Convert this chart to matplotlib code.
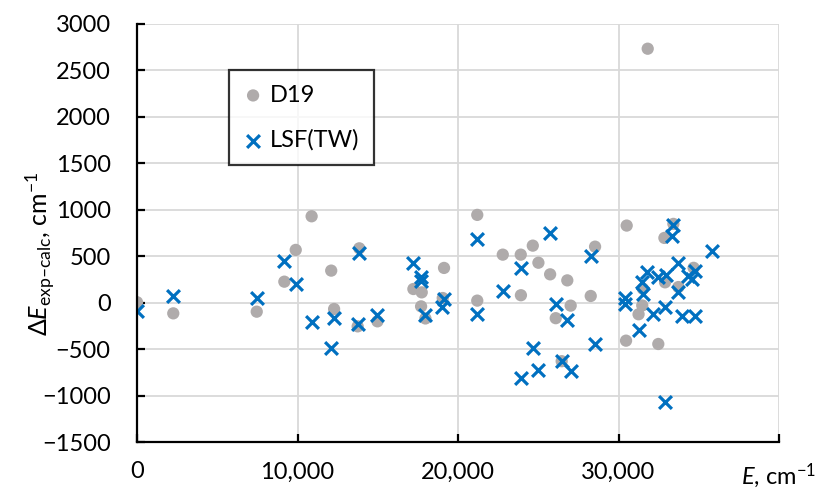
import matplotlib
matplotlib.use('Agg')
import matplotlib.pyplot as plt

plt.rcParams['font.family'] = ['Lato', 'DejaVu Sans']
plt.rcParams['mathtext.fontset'] = 'custom'
plt.rcParams['mathtext.rm'] = 'Lato'
plt.rcParams['mathtext.it'] = 'Lato:italic'

# D19 (grey circles)
d19_e = [0, 2260, 7460, 9180, 9890, 10880, 12100, 12280, 13850, 13750,
         14980, 17220, 17740, 17700, 17970, 19130, 19050, 21200, 21200, 22790,
         23910, 23920, 24660, 25010, 25740, 26810, 26090, 26460, 27020, 28540,
         28270, 30510, 31820, 33420, 32860, 34680, 32900, 31520, 33730, 31480,
         31250, 30470, 32480]
d19_de = [5, -115, -97, 226, 568, 930, 345, -68, 585, -255,
          -201, 147, 111, -40, -170, 374, 50, 945, 22, 517,
          517, 80, 614, 430, 305, 240, -167, -630, -32, 603,
          72, 830, 2734, 848, 697, 375, 219, 150, 168, -30,
          -125, -409, -445]

# LSF(TW) (blue crosses)
lsf_e = [0, 2260, 7460, 9180, 9890, 10880, 12280, 12090, 13850, 13750,
         14980, 17220, 17700, 17720, 17970, 19130, 19030, 21200, 21200, 22790,
         23910, 23910, 24660, 25010, 25740, 26090, 26460, 26810, 27020, 28270,
         28540, 33420, 33320, 35840, 33730, 31760, 32480, 32930, 31450, 31530,
         34350, 34770, 34560, 33680, 30410, 30410, 32170, 32900, 33940, 34770,
         31300, 32900]
lsf_de = [-94, 68, 50, 445, 201, -212, -169, -488, 531, -230,
          -133, 431, 273, 237, -133, 36, -50, 686, -125, 124,
          377, -812, -485, -720, 751, -10, -625, -190, -740, 503,
          -450, 840, 722, 556, 432, 327, 280, 303, 219, 90,
          291, 345, 255, 111, 55, -14, -122, -50, -140, -140,
          -295, -1067]

x_ticks = [0, 10000, 20000, 30000, 40000]
x_labels = ['0', '10,000', '20,000', '30,000', r'$\mathit{E}$, cm$^{-1}$']
y_ticks = list(range(-1500, 3001, 500))
y_title = r'$\Delta\mathit{E}_{\mathrm{exp' + '\u2013' + r'calc}}$, cm$^{-1}$'

fig = plt.figure(figsize=(8.35, 4.9), dpi=100)
ax = fig.add_axes([137 / 835, 48 / 490, 642 / 835, 418 / 490])

ax.scatter(d19_e, d19_de, s=78, color='#AFABAB', edgecolors='none',
           label='D19', zorder=3)
ax.scatter(lsf_e, lsf_de, s=85, marker='x', color='#0070C0', linewidths=2.3,
           label='LSF(TW)', zorder=4)

ax.set_xlim(0, 40000)
ax.set_ylim(-1500, 3000)
ax.set_xticks(x_ticks)
ax.set_xticklabels(x_labels)
ax.set_yticks(y_ticks)

ax.grid(True, color='#D9D9D9', linewidth=1.3)
ax.set_axisbelow(True)

for side in ['top', 'right']:
    ax.spines[side].set_visible(False)
for side in ['left', 'bottom']:
    ax.spines[side].set_linewidth(1.6)
    ax.spines[side].set_color('black')
    ax.spines[side].set_zorder(5)

ax.tick_params(axis='both', direction='in', length=6, width=1.6,
               labelsize=17, colors='black')
ax.tick_params(axis='y', pad=19)
ax.tick_params(axis='x', pad=14)

ax.set_ylabel(y_title, fontsize=18)
ax.yaxis.set_label_coords(-0.125, 0.45)

leg = ax.legend(loc='upper left', bbox_to_anchor=(229 / 835, 1 - 70 / 490),
                bbox_transform=fig.transFigure, borderaxespad=0,
                fontsize=17, frameon=True, fancybox=False, handletextpad=0.3,
                labelspacing=1.0, borderpad=0.62, handlelength=0.8)
leg.get_frame().set_edgecolor('black')
leg.get_frame().set_linewidth(1.6)

fig.savefig('out.png', dpi=100)
